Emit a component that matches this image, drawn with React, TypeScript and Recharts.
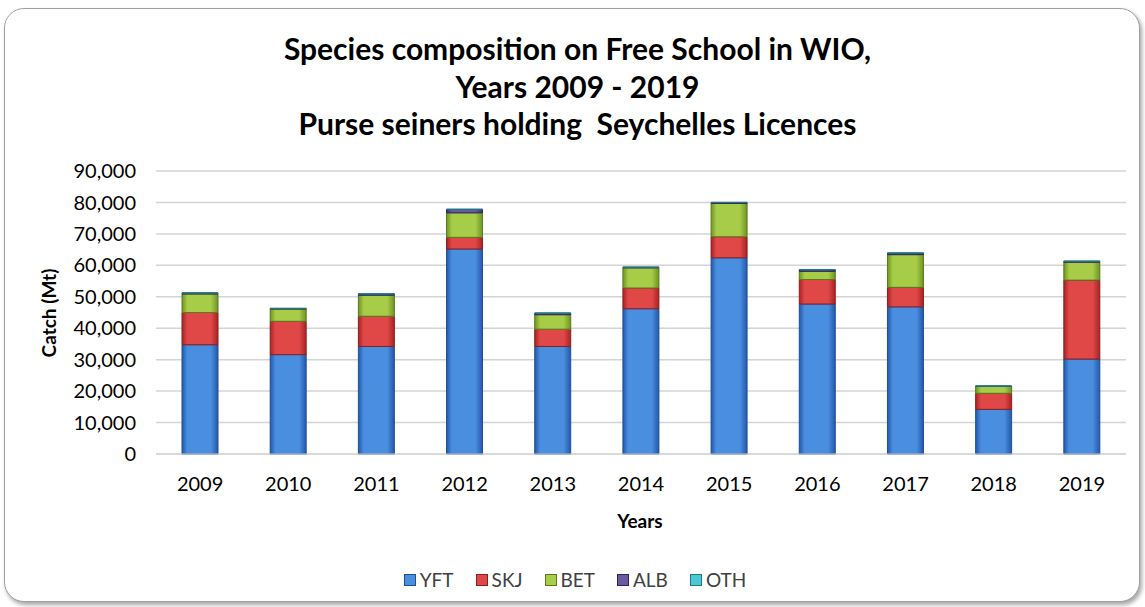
import React from 'react';
import { BarChart, Bar, XAxis, YAxis, CartesianGrid } from 'recharts';

const years = ['2009', '2010', '2011', '2012', '2013', '2014', '2015', '2016', '2017', '2018', '2019'];
const yft = [34750, 31600, 34200, 65200, 34200, 46200, 62400, 47700, 46800, 14200, 30200];
const skj = [10250, 10600, 9600, 3700, 5500, 6600, 6700, 7800, 6200, 5100, 25100];
const bet = [5900, 3900, 6700, 7800, 4600, 6400, 10600, 2600, 10400, 2200, 5700];
const alb = [300, 200, 400, 1100, 500, 200, 300, 500, 500, 100, 300];
const oth = [30, 20, 30, 40, 20, 30, 30, 20, 30, 10, 20];
const yTicks = [0, 10000, 20000, 30000, 40000, 50000, 60000, 70000, 80000, 90000];

const data = years.map((y, i) => ({ year: y, YFT: yft[i], SKJ: skj[i], BET: bet[i], ALB: alb[i], OTH: oth[i] }));

const series = [
  { key: 'YFT', id: 'gY', dark: '#2458a8', mid: '#4a8ee0', edge: '#1f4f9a' },
  { key: 'SKJ', id: 'gS', dark: '#a82424', mid: '#e04848', edge: '#8c1e1e' },
  { key: 'BET', id: 'gB', dark: '#6f9424', mid: '#a6cc48', edge: '#5a7a1c' },
  { key: 'ALB', id: 'gA', dark: '#3e3270', mid: '#6a5aa0', edge: '#2e2458' },
  { key: 'OTH', id: 'gO', dark: '#2898a8', mid: '#4cc8d4', edge: '#1e7a88' },
];

const fmt = (v: number) => v.toLocaleString('en-US');
const font = 'Lato, "Open Sans", sans-serif';

export default function App() {
  return (
    <div style={{ position: 'absolute', left: 0, top: 0, width: 1145, height: 607, background: '#fff', fontFamily: font }}>
      <div style={{ position: 'absolute', left: 4, top: 8, width: 1134, height: 592, border: '1px solid #a0a0a0', borderRadius: 20, boxShadow: '2px 3px 4px rgba(0,0,0,0.35)', background: '#fff' }} />
      <div style={{ position: 'absolute', left: 0, top: 30, width: 1155, textAlign: 'center', fontWeight: 700, fontSize: 30, lineHeight: '37.5px', color: '#000' }}>
        <div>Species composition on Free School in WIO,</div>
        <div>Years 2009 - 2019</div>
        <div>Purse seiners holding&nbsp; Seychelles Licences</div>
      </div>
      <div style={{ position: 'absolute', left: 0, top: 0 }}>
        <BarChart width={1145} height={607} data={data} margin={{ top: 171, right: 19, bottom: 123, left: 0 }} barSize={36}>
          <defs>
            {series.map((s) => (
              <linearGradient key={s.id} id={s.id} x1="0" y1="0" x2="1" y2="0">
                <stop offset="0%" stopColor={s.dark} />
                <stop offset="15%" stopColor={s.mid} />
                <stop offset="80%" stopColor={s.mid} />
                <stop offset="100%" stopColor={s.dark} />
              </linearGradient>
            ))}
          </defs>
          <CartesianGrid vertical={false} stroke="#d4d4d4" strokeWidth={1.5} />
          <XAxis dataKey="year" height={30} tickLine={false} axisLine={{ stroke: '#d4d4d4' }} tickMargin={17} tick={{ fontSize: 20, fill: '#000', fontFamily: font }} interval={0} />
          <YAxis width={156} domain={[0, 90000]} ticks={yTicks} tickFormatter={fmt} tickLine={false} axisLine={false} tickMargin={14} tick={{ fontSize: 20, fill: '#000', fontFamily: font }} interval={0} />
          {series.map((s) => (
            <Bar key={s.key} dataKey={s.key} stackId="a" fill={`url(#${s.id})`} stroke={s.edge} strokeWidth={1} isAnimationActive={false} />
          ))}
        </BarChart>
      </div>
      <div style={{ position: 'absolute', left: 48, top: 313, transform: 'translate(-50%,-50%) rotate(-90deg)', fontWeight: 700, fontSize: 19, whiteSpace: 'nowrap' }}>Catch (Mt)</div>
      <div style={{ position: 'absolute', left: 640, top: 520, transform: 'translate(-50%,-50%)', fontWeight: 700, fontSize: 19 }}>Years</div>
      <div style={{ position: 'absolute', left: 0, top: 568, width: 1150, display: 'flex', justifyContent: 'center', gap: 22, fontSize: 19, color: '#404040' }}>
        {series.map((s) => (
          <div key={s.key} style={{ display: 'flex', alignItems: 'center', gap: 4 }}>
            <span style={{ display: 'inline-block', width: 10, height: 10, background: s.mid, border: `1px solid ${s.edge}` }} />
            <span>{s.key}</span>
          </div>
        ))}
      </div>
    </div>
  );
}
